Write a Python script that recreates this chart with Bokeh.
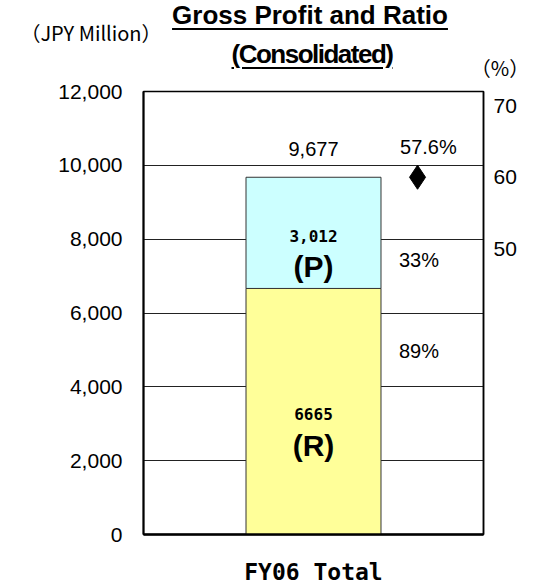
from bokeh.plotting import figure
from bokeh.layouts import column
from bokeh.models import (Range1d, LinearAxis, FixedTicker, NumeralTickFormatter,
                          ColumnDataSource, FactorRange, Div)
from bokeh.transform import dodge
from bokeh.core.properties import value
from bokeh.embed import file_html
from bokeh.resources import INLINE

# ---------------- data ----------------
categories = ["FY06 Total"]
segment_names = ["(R)", "(P)"]
segment_values = [6665, 3012]
segment_value_text = ["6665", "3,012"]
segment_ratio_text = ["89%", "33%"]
segment_colors = ["#FFFF99", "#CCFFFF"]
total_values = [9677]
total_text = ["9,677"]
gross_ratio_text = ["57.6%"]
left_ticks = [0, 2000, 4000, 6000, 8000, 10000, 12000]
right_ticks = [50, 60, 70]
title_lines = ["Gross Profit and Ratio", "(Consolidated)"]
left_unit = "（JPY Million）"
right_unit = "（%）"

# ---------------- derived ----------------
bottoms, tops = [], []
acc = 0
for v in segment_values:
    bottoms.append(acc)
    acc += v
    tops.append(acc)
centers = [(b + t) / 2 for b, t in zip(bottoms, tops)]

seg_src = ColumnDataSource(dict(
    x=[categories[0]] * len(segment_values),
    bottom=bottoms, top=tops, center=centers,
    color=segment_colors, name=segment_names,
    vtext=segment_value_text, rtext=segment_ratio_text,
    roff=[-60, 27],
))
tot_src = ColumnDataSource(dict(x=categories, total=total_values,
                                ttext=total_text, gtext=gross_ratio_text))

W = 533
HEAD_H = 78

# ---------------- header (titles, as real text) ----------------
def block(txt, left, top, size, extra=""):
    return (f'<div style="position:absolute;left:{left}px;top:{top}px;'
            f'transform:translateX(-50%);white-space:nowrap;line-height:1;'
            f'font-size:{size}px;{extra}">{txt}</div>')

title_style = ("font-family:'Liberation Sans',Arial,sans-serif;font-weight:bold;"
               "text-decoration:underline;text-decoration-thickness:2px;"
               "text-underline-offset:4px;")
unit_style = "font-family:'Noto Sans CJK JP',sans-serif;"
html = (
    f'<div style="position:relative;width:{W}px;height:{HEAD_H}px;color:black;">'
    + block(title_lines[0], 310, 2, 26, title_style)
    + block(title_lines[1], 312, 41, 26, title_style + "letter-spacing:-1.5px;")
    + block(left_unit, 91, 23, 20, unit_style)
    + block(right_unit, 500, 58, 20, unit_style)
    + '</div>'
)
head = Div(text=html, width=W, height=HEAD_H, margin=0)

# ---------------- main chart ----------------
p = figure(x_range=FactorRange(*categories), y_range=Range1d(0, 12000),
           width=W, height=587 - HEAD_H, output_backend="svg", toolbar_location=None,
           min_border_left=143, min_border_right=50, min_border_top=91 - HEAD_H,
           min_border_bottom=52)
p.extra_y_ranges = {"pct": Range1d(10, 72)}

p.background_fill_color = "white"
p.border_fill_color = "white"
p.outline_line_color = "black"
p.outline_line_width = 1.5
p.outline_line_alpha = 1

# bars
p.vbar(x="x", bottom="bottom", top="top", width=0.397, fill_color="color",
       line_color="#333333", line_width=1, source=seg_src)

# total marker (diamond)
p.scatter(x=dodge("x", 0.306, range=p.x_range), y="total", marker="diamond",
          size=24, fill_color="black", line_color="black", source=tot_src)

normal_font = value("Liberation Sans")
p.text(x="x", y="total", text="ttext", text_font=normal_font, text_font_size="20px",
       text_align="center", text_baseline="middle", y_offset=-28, text_color="black",
       source=tot_src)
p.text(x=dodge("x", 0.338, range=p.x_range), y="total", text="gtext",
       text_font=normal_font, text_font_size="20px", text_align="center",
       text_baseline="middle", y_offset=-30, text_color="black", source=tot_src)
p.text(x="x", y="center", text="vtext", text_font=value("DejaVu Sans Mono"),
       text_font_size="16px", text_font_style="bold", text_align="center",
       text_baseline="middle", y_offset=3, text_color="black", source=seg_src)
p.text(x="x", y="center", text="name", text_font=normal_font,
       text_font_size="30px", text_font_style="bold", text_align="center",
       text_baseline="middle", y_offset=34, text_color="black", source=seg_src)
p.text(x=dodge("x", 0.31, range=p.x_range), y="center", text="rtext",
       text_font=normal_font, text_font_size="20px", text_align="center",
       text_baseline="middle", y_offset="roff", text_color="black", source=seg_src)

# axes
yax = p.yaxis[0]
yax.ticker = FixedTicker(ticks=left_ticks)
yax.formatter = NumeralTickFormatter(format="0,0")
yax.axis_line_color = "black"
yax.axis_line_width = 2
yax.major_tick_in = 0
yax.major_tick_out = 0
yax.minor_tick_line_color = None
yax.major_label_standoff = 21
yax.major_label_text_font = "Liberation Sans"
yax.major_label_text_font_size = "21px"
yax.major_label_text_color = "black"

rax = LinearAxis(y_range_name="pct", ticker=FixedTicker(ticks=right_ticks))
rax.axis_line_color = "black"
rax.axis_line_width = 1.5
rax.major_tick_in = 0
rax.major_tick_out = 0
rax.minor_tick_line_color = None
rax.major_label_standoff = 10
rax.major_label_text_font = "Liberation Sans"
rax.major_label_text_font_size = "21px"
rax.major_label_text_color = "black"
p.add_layout(rax, "right")

xax = p.xaxis[0]
xax.axis_line_color = "black"
xax.axis_line_width = 2.5
xax.major_tick_in = 0
xax.major_tick_out = 0
xax.minor_tick_line_color = None
xax.major_label_standoff = 24
xax.major_label_text_font = "DejaVu Sans Mono"
xax.major_label_text_font_style = "bold"
xax.major_label_text_font_size = "23px"
xax.major_label_text_color = "black"

p.xgrid.visible = False
p.ygrid.ticker = FixedTicker(ticks=left_ticks)
p.ygrid.grid_line_color = "#222222"
p.ygrid.grid_line_width = 1

layout = column(head, p, spacing=0)
open("out.html", "w").write(file_html(layout, INLINE))
